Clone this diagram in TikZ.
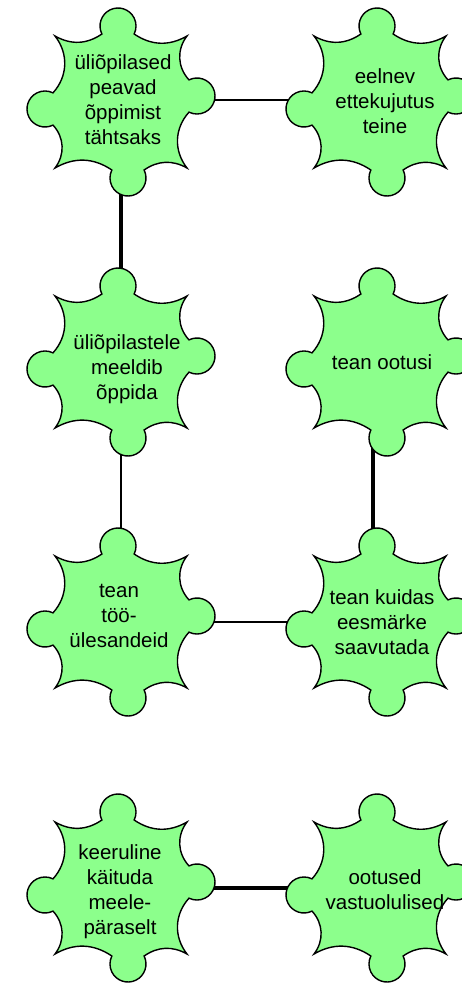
\documentclass[tikz,border=0pt]{standalone}
\usepackage{fontspec}
\setmainfont{Liberation Sans}
\usetikzlibrary{backgrounds}
\definecolor{pzfill}{RGB}{140,255,140}
\tikzset{
  pzline/.style={draw=black,fill=pzfill,line width=1.4pt,line join=miter},
  puzzle/.pic={
    \draw[pzline] (-66,66) to[bend right=32] (-19.1,68)
      arc[start angle=206.4,end angle=-26.4,radius=18pt]
      to[bend right=32] (66,66) to[bend right=40] (68,22.1)
      arc[start angle=116.4,end angle=-116.4,radius=18pt]
      to[bend right=40] (66,-66) to[bend right=32] (23.1,-68)
      arc[start angle=26.4,end angle=-206.4,radius=18pt]
      to[bend right=32] (-66,-66) to[bend right=40] (-68,-23.1)
      arc[start angle=296.4,end angle=63.6,radius=18pt]
      to[bend right=40] cycle;
  },
  txt/.style={align=center,inner sep=0pt,font=\fontsize{20.5}{25}\selectfont},
  thinlink/.style={draw=black,line width=1.3pt},
  thicklink/.style={draw=black,line width=4.6pt},
}
\begin{document}
\begin{tikzpicture}[x=1pt,y=1pt]
\useasboundingbox (0,0) rectangle (461,-983);
% shape centres
\coordinate (c1) at (121,-102);
\coordinate (c2) at (380,-102);
\coordinate (c3) at (121,-362);
\coordinate (c4) at (380,-362);
\coordinate (c5) at (121,-622);
\coordinate (c6) at (380,-622);
\coordinate (c7) at (121,-888);
\coordinate (c8) at (380,-888);
\foreach \c in {c1,c2,c3,c4,c5,c6,c7,c8} { \path pic at (\c) {puzzle}; }
% texts
\node[txt] (n1) at (123,-100) {üliõpilased\\peavad\\õppimist\\tähtsaks};
\node[txt] (n2) at (385,-101) {eelnev\\ettekujutus\\teine};
\node[txt] (n3) at (127,-369) {üliõpilastele\\meeldib\\õppida};
\node[txt] (n4) at (382,-362) {tean ootusi};
\node[txt] (n5) at (119,-616) {tean\\töö-\\ülesandeid};
\node[txt] (n6) at (382,-622) {tean kuidas\\eesmärke\\saavutada};
\node[txt] (n7) at (120,-892) {keeruline\\käituda\\meele-\\päraselt};
\node[txt] (n8) at (385,-890) {ootused\\vastuolulised};
% connectors
\begin{pgfonlayer}{background}
\draw[thinlink] ([yshift=2pt]c1) -- ([yshift=2pt]c2);
\draw[thicklink] (c1) -- (c3);
\draw[thinlink] (c3) -- (c5);
\draw[thicklink] ([xshift=-7pt]c4) -- ([xshift=-7pt]c6);
\draw[thinlink] (c5) -- (c6);
\draw[thicklink] (c7) -- (c8);
\end{pgfonlayer}
\end{tikzpicture}
\end{document}
